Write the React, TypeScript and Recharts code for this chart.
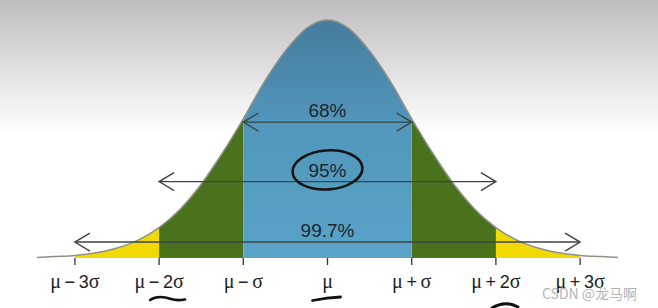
import React from 'react'
import {
  ComposedChart,
  Area,
  Line,
  XAxis,
  YAxis,
  ReferenceLine,
  ReferenceDot,
} from 'recharts'

// positions in units of sigma, and curve height (peak = 1)
const sigmaPos = [
  -3.45, -3.25, -3, -2.75, -2.5, -2.25, -2, -1.75, -1.5, -1.25, -1, -0.75, -0.5, -0.25, 0,
  0.25, 0.5, 0.75, 1, 1.25, 1.5, 1.75, 2, 2.25, 2.5, 2.75, 3, 3.25, 3.45,
]
const density = [
  0.002, 0.006, 0.011, 0.022, 0.042, 0.075, 0.128, 0.205, 0.31, 0.44, 0.585, 0.74, 0.87, 0.965, 1.0,
  0.965, 0.87, 0.74, 0.585, 0.44, 0.31, 0.205, 0.128, 0.075, 0.042, 0.022, 0.011, 0.006, 0.002,
]

const tickValues = [-3, -2, -1, 0, 1, 2, 3]
const tickLabels = ['μ − 3σ', 'μ − 2σ', 'μ − σ', 'μ', 'μ + σ', 'μ + 2σ', 'μ + 3σ']

const arrowSpans = [1, 2, 3]
const arrowHeights = [0.571, 0.321, 0.067]
const arrowLabels = ['68%', '95%', '99.7%']

const rows = sigmaPos.map((x, i) => {
  const y = density[i]
  const a = Math.abs(x)
  return {
    x,
    y,
    blue: a <= 1 ? y : null,
    green: a >= 1 && a <= 2 ? y : null,
    yellow: a >= 2 && a <= 3 ? y : null,
  }
})

const SERIF = '"Liberation Serif", "DejaVu Serif", serif'
const SANS = '"Liberation Sans", Arial, sans-serif'

function SigmaTick(props: any) {
  const { x, payload } = props
  const idx = tickValues.indexOf(payload.value)
  const label = tickLabels[idx] ?? ''
  const parts = label.split('')
  return (
    <g>
      <text x={x} y={288} textAnchor="middle" fill="#222">
        {parts.map((c, i) => {
          const greek = c === 'μ' || c === 'σ'
          return (
            <tspan key={i} fontFamily={greek ? SERIF : SANS} fontSize={greek ? 20 : 18}>
              {c === ' ' ? '\u2009' : c}
            </tspan>
          )
        })}
      </text>
      {payload.value === -2 && (
        <path
          d={`M ${x - 9} 300 C ${x - 3} 296 ${x + 6} 297 ${x + 12} 299 S ${x + 22} 300 ${x + 26} 299.5`}
          stroke="#111"
          strokeWidth={2.6}
          fill="none"
          strokeLinecap="round"
        />
      )}
      {payload.value === 0 && (
        <path
          d={`M ${x - 15} 300.5 Q ${x} 297.5 ${x + 13} 297`}
          stroke="#111"
          strokeWidth={2.8}
          fill="none"
          strokeLinecap="round"
        />
      )}
      {payload.value === 2 && (
        <path
          d={`M ${x - 4} 308 Q ${x + 9} 300 ${x + 22} 307`}
          stroke="#111"
          strokeWidth={3}
          fill="none"
          strokeLinecap="round"
        />
      )}
    </g>
  )
}

function makeArrow(label: string) {
  return (p: any) => {
    const { x1, y1, x2 } = p
    const c = '#3d4449'
    return (
      <g>
        <line x1={x1} y1={y1} x2={x2} y2={y1} stroke={c} strokeWidth={1.4} />
        <polyline points={`${x1 + 15},${y1 - 9} ${x1},${y1} ${x1 + 15},${y1 + 9}`} stroke={c} strokeWidth={1.4} fill="none" />
        <polyline points={`${x2 - 15},${y1 - 9} ${x2},${y1} ${x2 - 15},${y1 + 9}`} stroke={c} strokeWidth={1.4} fill="none" />
        <text x={(x1 + x2) / 2} y={y1 - 5} textAnchor="middle" fontFamily={SANS} fontSize={19} fill="#1c2630">
          {label}
        </text>
      </g>
    )
  }
}

function Circled(p: any) {
  const { cx, cy } = p
  return (
    <ellipse
      cx={cx}
      cy={cy}
      rx={35}
      ry={19.5}
      transform={`rotate(-4 ${cx} ${cy})`}
      stroke="#151515"
      strokeWidth={2.6}
      fill="none"
    />
  )
}

export default function App() {
  return (
    <div
      style={{
        position: 'fixed',
        left: 0,
        top: 0,
        width: 658,
        height: 308,
        background: 'linear-gradient(to bottom, #bdbdbd 0px, #d6d6d6 50px, #efefef 100px, #ffffff 135px)',
        overflow: 'hidden',
      }}
    >
      <ComposedChart width={658} height={308} data={rows} margin={{ top: 20, right: 40, left: 37, bottom: 0 }}>
        <defs>
          <linearGradient id="blueFill" x1="0" y1="0" x2="0" y2="1">
            <stop offset="0%" stopColor="#467c9c" />
            <stop offset="45%" stopColor="#5297bc" />
            <stop offset="100%" stopColor="#5aa3c8" />
          </linearGradient>
        </defs>
        <XAxis
          type="number"
          dataKey="x"
          domain={[-3.45, 3.45]}
          ticks={tickValues}
          axisLine={false}
          tickLine={{ stroke: '#333', strokeWidth: 1.3 }}
          tickSize={7}
          height={50}
          tick={<SigmaTick />}
          interval={0}
          allowDataOverflow
        />
        <YAxis hide domain={[0, 1]} />
        <Area type="monotone" dataKey="yellow" fill="#f2da00" fillOpacity={1} stroke="none" isAnimationActive={false} />
        <Area type="monotone" dataKey="green" fill="#4a711c" fillOpacity={1} stroke="none" isAnimationActive={false} />
        <Area type="monotone" dataKey="blue" fill="url(#blueFill)" fillOpacity={1} stroke="none" isAnimationActive={false} />
        <Line type="monotone" dataKey="y" stroke="#8e918a" strokeWidth={1.5} dot={false} isAnimationActive={false} />
        {arrowSpans.map((s, i) => (
          <ReferenceLine
            key={s}
            segment={[
              { x: -s, y: arrowHeights[i] },
              { x: s, y: arrowHeights[i] },
            ]}
            ifOverflow="visible"
            shape={makeArrow(arrowLabels[i])}
          />
        ))}
        <ReferenceDot x={0} y={0.37} ifOverflow="visible" shape={<Circled />} />
      </ComposedChart>
      <div
        style={{
          position: 'absolute',
          left: 542,
          top: 283,
          fontFamily: '"Noto Sans CJK SC", "Noto Sans", sans-serif',
          fontSize: 14,
          color: '#b4b4b4',
          whiteSpace: 'nowrap',
        }}
      >
        CSDN @龙马啊
      </div>
    </div>
  )
}
